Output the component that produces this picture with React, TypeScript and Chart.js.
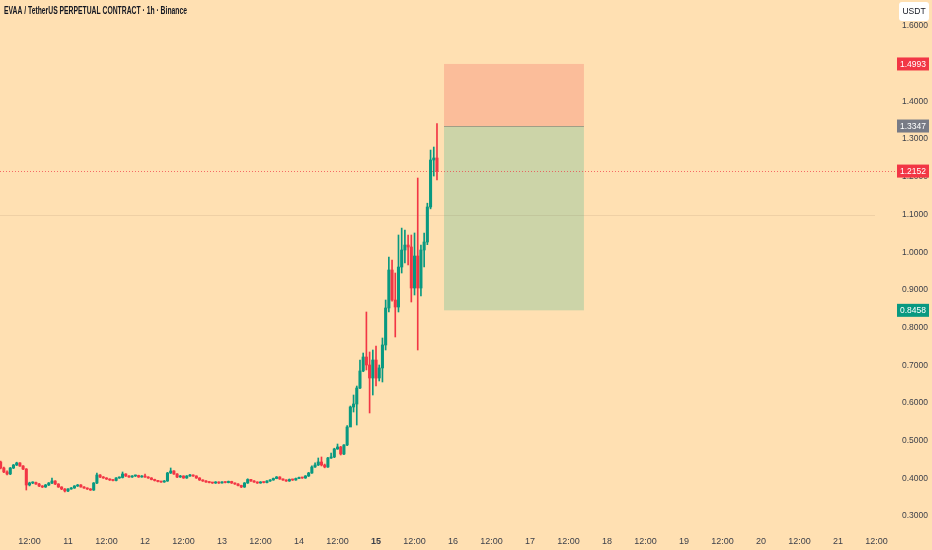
import { useEffect, useRef } from "react";
import { Chart, registerables } from "chart.js";

Chart.register(...registerables);

// hours counted from the 10th, 00:00 — first visible candle opens at 03:00
const startHour = 3;

const opens = [
  0.4435, 0.4276, 0.4170, 0.4117, 0.4276, 0.4355, 0.4410, 0.4329, 0.4249, 0.3825,
  0.3878, 0.3890, 0.3851, 0.3798, 0.3772, 0.3825, 0.3878, 0.3931, 0.3851, 0.3772,
  0.3719, 0.3666, 0.3719, 0.3745, 0.3798, 0.3825, 0.3772, 0.3745, 0.3719, 0.3692,
  0.3878, 0.4090, 0.4037, 0.4011, 0.3984, 0.3958, 0.3945, 0.4011, 0.4024, 0.4117,
  0.4064, 0.4037, 0.4064, 0.4077, 0.4037, 0.4064, 0.4037, 0.4011, 0.3971, 0.3945,
  0.3918, 0.3905, 0.3931, 0.4143, 0.4196, 0.4117, 0.4037, 0.4064, 0.4011, 0.4064,
  0.4090, 0.4064, 0.4011, 0.3958, 0.3931, 0.3905, 0.3890, 0.3878, 0.3905, 0.3878,
  0.3905, 0.3890, 0.3918, 0.3878, 0.3851, 0.3812, 0.3772, 0.3878, 0.3971, 0.3931,
  0.3905, 0.3878, 0.3905, 0.3890, 0.3931, 0.3958, 0.3997, 0.4037, 0.3984, 0.3958,
  0.3931, 0.3971, 0.3958, 0.3997, 0.4024, 0.4011, 0.4064, 0.4143, 0.4302, 0.4355,
  0.4435, 0.4355, 0.4302, 0.4541, 0.4568, 0.4780, 0.4833, 0.4647, 0.4886, 0.5363,
  0.5894, 0.5973, 0.6398, 0.6849, 0.7220, 0.7008, 0.6663, 0.7141, 0.6663, 0.6929,
  0.7539, 0.8520, 0.9528, 0.8732, 0.8546, 0.9607, 1.0058, 1.0190, 1.0138, 0.9050,
  0.9899, 0.9050, 1.0058, 1.0270, 1.1199, 1.2446, 1.2499,
];

const highs = [
  0.4460, 0.4300, 0.4200, 0.4290, 0.4370, 0.4430, 0.4420, 0.4340, 0.4260, 0.3900,
  0.3910, 0.3900, 0.3870, 0.3810, 0.3840, 0.3890, 0.4011, 0.3940, 0.3860, 0.3780,
  0.3730, 0.3730, 0.3760, 0.3810, 0.3840, 0.3835, 0.3780, 0.3750, 0.3730, 0.3890,
  0.4143, 0.4100, 0.4050, 0.4020, 0.3990, 0.3965, 0.4020, 0.4040, 0.4170, 0.4125,
  0.4075, 0.4075, 0.4090, 0.4085, 0.4075, 0.4117, 0.4045, 0.4020, 0.3980, 0.3950,
  0.3925, 0.3945, 0.4160, 0.4276, 0.4205, 0.4125, 0.4080, 0.4070, 0.4075, 0.4105,
  0.4095, 0.4070, 0.4020, 0.3965, 0.3940, 0.3915, 0.3895, 0.3915, 0.3910, 0.3915,
  0.3910, 0.3930, 0.3925, 0.3885, 0.3860, 0.3820, 0.3890, 0.3990, 0.3975, 0.3940,
  0.3910, 0.3915, 0.3910, 0.3940, 0.3970, 0.4010, 0.4050, 0.4045, 0.3990, 0.3965,
  0.3985, 0.3980, 0.4010, 0.4035, 0.4030, 0.4075, 0.4160, 0.4330, 0.4410, 0.4541,
  0.4568, 0.4380, 0.4560, 0.4674, 0.4800, 0.4912, 0.4850, 0.4900, 0.5400, 0.5920,
  0.6212, 0.6450, 0.7141, 0.7326, 0.8414, 0.7353, 0.7406, 0.7512, 0.7008, 0.7724,
  0.8732, 0.9872, 0.9793, 0.9448, 1.0456, 1.0640, 1.0589, 1.0456, 1.0456, 1.0510,
  1.1968, 1.0190, 1.0510, 1.1300, 1.2710, 1.2790, 1.3410,
];

const lows = [
  0.4250, 0.4150, 0.4090, 0.4100, 0.4260, 0.4340, 0.4320, 0.4230, 0.3692, 0.3800,
  0.3860, 0.3840, 0.3780, 0.3755, 0.3760, 0.3810, 0.3860, 0.3835, 0.3760, 0.3700,
  0.3640, 0.3650, 0.3710, 0.3735, 0.3785, 0.3765, 0.3735, 0.3705, 0.3680, 0.3680,
  0.3860, 0.4020, 0.4000, 0.3970, 0.3945, 0.3930, 0.3935, 0.4000, 0.4010, 0.4050,
  0.4025, 0.4025, 0.4050, 0.4025, 0.4030, 0.4025, 0.4000, 0.3960, 0.3930, 0.3905,
  0.3890, 0.3895, 0.3920, 0.4130, 0.4105, 0.4020, 0.4025, 0.4000, 0.4000, 0.4050,
  0.4050, 0.4000, 0.3945, 0.3920, 0.3895, 0.3880, 0.3865, 0.3865, 0.3865, 0.3870,
  0.3880, 0.3880, 0.3865, 0.3840, 0.3800, 0.3755, 0.3760, 0.3865, 0.3920, 0.3895,
  0.3865, 0.3870, 0.3880, 0.3880, 0.3920, 0.3950, 0.3990, 0.3975, 0.3945, 0.3920,
  0.3920, 0.3945, 0.3950, 0.3990, 0.4000, 0.4000, 0.4050, 0.4130, 0.4290, 0.4340,
  0.4330, 0.4280, 0.4290, 0.4530, 0.4550, 0.4770, 0.4620, 0.4630, 0.4870, 0.5416,
  0.5761, 0.5416, 0.6380, 0.6830, 0.6876, 0.5735, 0.6212, 0.6451, 0.6584, 0.6557,
  0.7406, 0.8414, 0.8700, 0.7751, 0.8414, 0.9448, 0.9714, 0.9660, 0.8679, 0.8865,
  0.7406, 0.8838, 0.9607, 1.0200, 1.1150, 1.2020, 1.1915,
];

const closes = [
  0.4276, 0.4170, 0.4117, 0.4276, 0.4355, 0.4410, 0.4329, 0.4249, 0.3825, 0.3878,
  0.3890, 0.3851, 0.3798, 0.3772, 0.3825, 0.3878, 0.3931, 0.3851, 0.3772, 0.3719,
  0.3666, 0.3719, 0.3745, 0.3798, 0.3825, 0.3772, 0.3745, 0.3719, 0.3692, 0.3878,
  0.4090, 0.4037, 0.4011, 0.3984, 0.3958, 0.3945, 0.4011, 0.4024, 0.4117, 0.4064,
  0.4037, 0.4064, 0.4077, 0.4037, 0.4064, 0.4037, 0.4011, 0.3971, 0.3945, 0.3918,
  0.3905, 0.3931, 0.4143, 0.4196, 0.4117, 0.4037, 0.4064, 0.4011, 0.4064, 0.4090,
  0.4064, 0.4011, 0.3958, 0.3931, 0.3905, 0.3890, 0.3878, 0.3905, 0.3878, 0.3905,
  0.3890, 0.3918, 0.3878, 0.3851, 0.3812, 0.3772, 0.3878, 0.3971, 0.3931, 0.3905,
  0.3878, 0.3905, 0.3890, 0.3931, 0.3958, 0.3997, 0.4037, 0.3984, 0.3958, 0.3931,
  0.3971, 0.3958, 0.3997, 0.4024, 0.4011, 0.4064, 0.4143, 0.4302, 0.4355, 0.4435,
  0.4355, 0.4302, 0.4541, 0.4568, 0.4780, 0.4833, 0.4647, 0.4886, 0.5363, 0.5894,
  0.5973, 0.6398, 0.6849, 0.7220, 0.7008, 0.6663, 0.7141, 0.6663, 0.6929, 0.7539,
  0.8520, 0.9528, 0.8732, 0.8546, 0.9607, 1.0058, 1.0190, 1.0138, 0.9050, 0.9899,
  0.9050, 1.0058, 1.0270, 1.1199, 1.2446, 1.2499, 1.2152,
];

const priceTicks = [0.3, 0.4, 0.5, 0.6, 0.7, 0.8, 0.9, 1.0, 1.1, 1.2, 1.3, 1.4, 1.5, 1.6];

const timeTickHours = [12, 24, 36, 48, 60, 72, 84, 96, 108, 120, 132, 144, 156, 168, 180, 192, 204, 216, 228, 240, 252, 264, 276];
const timeTickLabels = ["12:00", "11", "12:00", "12", "12:00", "13", "12:00", "14", "12:00", "15", "12:00", "16", "12:00", "17", "12:00", "18", "12:00", "19", "12:00", "20", "12:00", "21", "12:00"];
const boldTickHour = 120;

// short position tool
const posStartHour = 141.2;
const posEndHour = 184.8;
const stopPrice = 1.4993;
const entryPrice = 1.3347;
const targetPrice = 0.8458;
const lastPrice = 1.2152;
const levelPrice = 1.1;

const TITLE = "EVAA / TetherUS PERPETUAL CONTRACT · 1h · Binance";
const BG = "#FFE0B2";
const GREEN = "#089981";
const RED = "#F23645";
const GRAY = "#787B86";
const TEXT = "#3B3F4A";
const FONT = "'Liberation Sans', Arial, sans-serif";

const overlayPlugin = {
  id: "overlay",
  beforeDatasetsDraw(chart: any) {
    const { ctx, chartArea, scales } = chart;
    const x = scales.x;
    const y = scales.y;
    const x0 = x.getPixelForValue(posStartHour);
    const x1 = x.getPixelForValue(posEndHour);
    const yStop = y.getPixelForValue(stopPrice);
    const yEntry = y.getPixelForValue(entryPrice);
    const yTarget = y.getPixelForValue(targetPrice);
    ctx.save();
    ctx.fillStyle = "#FBBD9A";
    ctx.fillRect(x0, yStop, x1 - x0, yEntry - yStop);
    ctx.fillStyle = "#CCD4A8";
    ctx.fillRect(x0, yEntry, x1 - x0, yTarget - yEntry);
    ctx.strokeStyle = "#A09E86";
    ctx.lineWidth = 1;
    ctx.beginPath();
    ctx.moveTo(x0, Math.round(yEntry) + 0.5);
    ctx.lineTo(x1, Math.round(yEntry) + 0.5);
    ctx.stroke();

    // faint horizontal level
    const yLevel = Math.round(y.getPixelForValue(levelPrice)) + 0.5;
    ctx.strokeStyle = "rgba(120, 100, 70, 0.12)";
    ctx.beginPath();
    ctx.moveTo(chartArea.left, yLevel);
    ctx.lineTo(chartArea.right - 15, yLevel);
    ctx.stroke();

    // last price dotted line
    const yLast = Math.round(y.getPixelForValue(lastPrice)) + 0.5;
    ctx.strokeStyle = "rgba(242, 54, 69, 0.7)";
    ctx.setLineDash([1, 2]);
    ctx.beginPath();
    ctx.moveTo(chartArea.left, yLast);
    ctx.lineTo(chartArea.right + 6, yLast);
    ctx.stroke();
    ctx.restore();
  },
  afterDraw(chart: any) {
    const { ctx, chartArea, scales } = chart;
    const y = scales.y;
    const left = chartArea.right + 7;
    const labels: [number, string][] = [
      [stopPrice, RED],
      [entryPrice, GRAY],
      [lastPrice, RED],
      [targetPrice, GREEN],
    ];
    ctx.save();
    ctx.font = `8.5px ${FONT}`;
    ctx.textAlign = "center";
    ctx.textBaseline = "middle";
    for (const [v, color] of labels) {
      const py = y.getPixelForValue(v);
      ctx.fillStyle = color;
      ctx.fillRect(left, py - 6.5, 32, 13);
      ctx.fillStyle = "#FFFFFF";
      ctx.fillText(v.toFixed(4), left + 16, py + 0.5);
    }

    // currency box
    ctx.fillStyle = "#FFFFFF";
    ctx.beginPath();
    ctx.roundRect(899, 2, 30, 19, 3);
    ctx.fill();
    ctx.fillStyle = "#131722";
    ctx.font = `8.5px ${FONT}`;
    ctx.fillText("USDT", 914, 12);

    // title
    ctx.textAlign = "left";
    ctx.font = `bold 11px ${FONT}`;
    ctx.fillStyle = "#131722";
    ctx.fillText(TITLE, 4, 10.5, 183);
    ctx.restore();
  },
};

export default function App() {
  const canvasRef = useRef<HTMLCanvasElement>(null);

  useEffect(() => {
    document.body.style.margin = "0";
    if (!canvasRef.current) return;
    const candleColors = closes.map((c, i) => (c >= opens[i] ? GREEN : RED));

    const chart = new Chart(canvasRef.current, {
      type: "bar",
      data: {
        datasets: [
          {
            label: "wicks",
            data: opens.map((_, i) => ({ x: startHour + i, y: [lows[i], highs[i]] })) as any,
            backgroundColor: candleColors,
            barThickness: 1,
            grouped: false,
            order: 2,
          },
          {
            label: "bodies",
            data: opens.map((o, i) => ({ x: startHour + i, y: [o, closes[i]] })) as any,
            backgroundColor: candleColors,
            barThickness: 2.4,
            minBarLength: 1,
            grouped: false,
            order: 1,
          },
        ],
      },
      options: {
        responsive: true,
        maintainAspectRatio: false,
        animation: false,
        layout: { padding: 0, autoPadding: false },
        plugins: {
          legend: { display: false },
          tooltip: { enabled: false },
        },
        scales: {
          x: {
            type: "linear",
            bounds: "data",
            min: 2.8,
            max: 280.2,
            offset: false,
            grid: { display: false, drawTicks: false },
            border: { display: false },
            afterFit: (s: any) => {
              s.height = 20;
              s.paddingLeft = 0;
              s.paddingRight = 0;
            },
            afterBuildTicks: (s: any) => {
              s.ticks = timeTickHours.map((v) => ({ value: v }));
            },
            ticks: {
              autoSkip: false,
              maxRotation: 0,
              padding: 6,
              color: TEXT,
              font: (ctx: any) => ({
                size: 9,
                family: FONT,
                weight: ctx.tick && ctx.tick.value === boldTickHour ? "bold" : "normal",
              }),
              callback: (v: any) => timeTickLabels[timeTickHours.indexOf(Number(v))] ?? "",
            },
          },
          y: {
            type: "linear",
            position: "right",
            bounds: "data",
            beginAtZero: false,
            min: 0.2631,
            max: 1.669,
            grid: { display: false, drawTicks: false },
            border: { display: false },
            afterFit: (s: any) => {
              s.width = 42;
              s.paddingTop = 0;
              s.paddingBottom = 0;
            },
            afterBuildTicks: (s: any) => {
              s.ticks = priceTicks.map((v) => ({ value: v }));
            },
            ticks: {
              padding: 12,
              color: TEXT,
              font: { size: 8.5, family: FONT },
              callback: (v: any) => Number(v).toFixed(4),
            },
          },
        },
      },
      plugins: [overlayPlugin],
    });

    return () => chart.destroy();
  }, []);

  return (
    <div style={{ position: "fixed", left: 0, top: 0, width: 932, height: 550, background: BG }}>
      <canvas ref={canvasRef} />
    </div>
  );
}
